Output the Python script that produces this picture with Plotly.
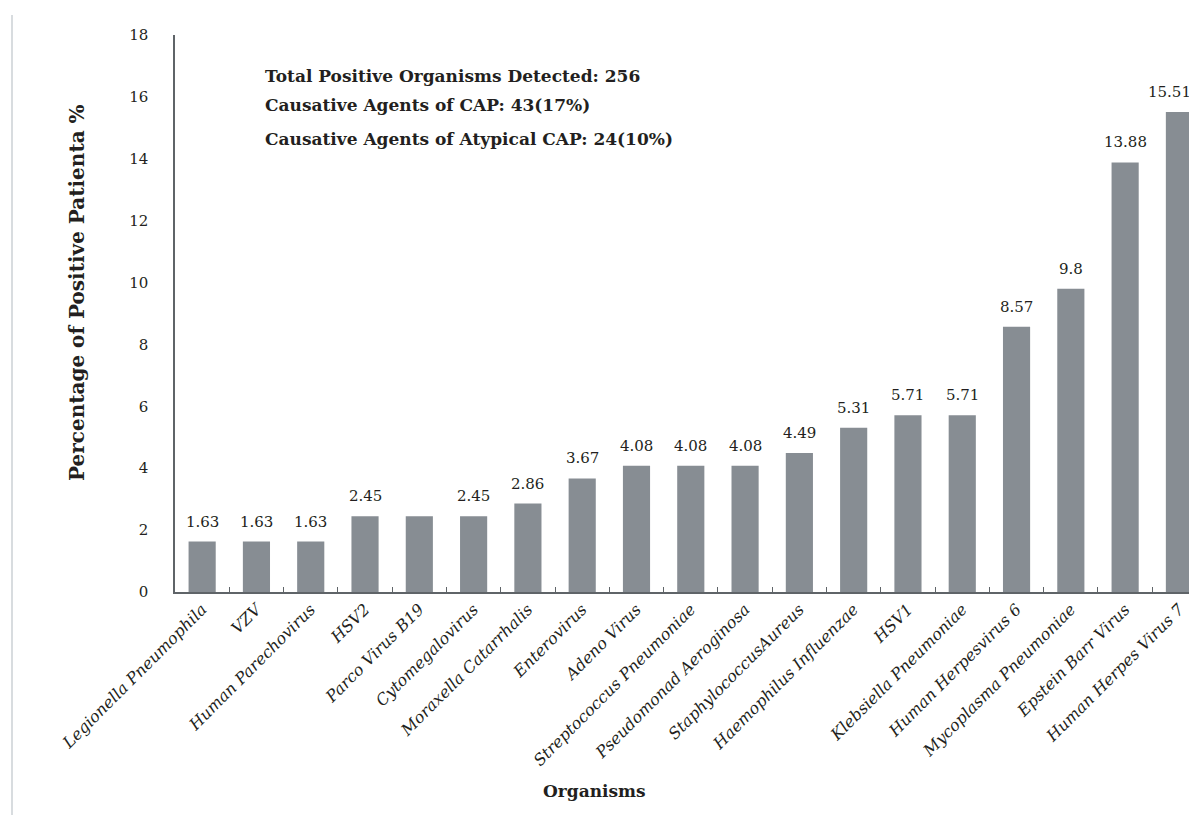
import plotly.graph_objects as go

organisms = ["Legionella Pneumophila", "VZV", "Human Parechovirus", "HSV2", "Parco Virus B19",
             "Cytomegalovirus", "Moraxella Catarrhalis", "Enterovirus", "Adeno Virus",
             "Streptococcus Pneumoniae", "Pseudomonad Aeroginosa", "StaphylococcusAureus",
             "Haemophilus Influenzae", "HSV1", "Klebsiella Pneumoniae", "Human Herpesvirus 6",
             "Mycoplasma Pneumoniae", "Epstein Barr Virus", "Human Herpes Virus 7"]
percent = [1.63, 1.63, 1.63, 2.45, 2.45, 2.45, 2.86, 3.67, 4.08, 4.08, 4.08, 4.49,
           5.31, 5.71, 5.71, 8.57, 9.8, 13.88, 15.51]
labels = ["1.63", "1.63", "1.63", "2.45", "", "2.45", "2.86", "3.67", "4.08", "4.08", "4.08",
          "4.49", "5.31", "5.71", "5.71", "8.57", "9.8", "13.88", "15.51"]
y_ticks = [0, 2, 4, 6, 8, 10, 12, 14, 16, 18]
notes = ["Total Positive Organisms Detected: 256",
         "Causative Agents of CAP: 43(17%)",
         "Causative Agents of Atypical CAP: 24(10%)"]

FONT = "DejaVu Serif"
TXT = "#231f20"
OFF = 8
W, H = 1197 - OFF, 815 - OFF
PX0, PX1, PY0, PY1 = 175, 1193, 35, 592
L, R, T, B = PX0 - OFF, 1197 - PX1, PY0 - OFF, 815 - PY1
pw = PX1 - PX0
ph = PY1 - PY0


def px(x):
    return (x - PX0) / pw


def py(y):
    return (PY1 - y) / ph


fig = go.Figure(go.Bar(
    x=organisms, y=percent,
    marker=dict(color="#878d93", line=dict(width=0)),
    width=0.5, hoverinfo="x+y",
))

n = len(organisms)
for i, (org, val, lab) in enumerate(zip(organisms, percent, labels)):
    if lab:
        fig.add_annotation(x=org, y=val, text=lab, showarrow=False, yanchor="bottom",
                           yshift=9, xshift=(-10 if i == n - 1 else 0),
                           font=dict(family=FONT, size=15, color=TXT))

fig.update_layout(
    width=W, height=H, margin=dict(l=L, r=R, t=T, b=B, autoexpand=False),
    paper_bgcolor="white", plot_bgcolor="white", showlegend=False,
    font=dict(family=FONT, color=TXT),
    xaxis=dict(range=[-0.5, 18.25], showline=True, linecolor="#5f6468", linewidth=1.5,
               ticks="inside", tickson="boundaries", ticklen=5, tickcolor="#5f6468",
               tickangle=-45, tickfont=dict(family=FONT, size=16, style="italic", color=TXT),
               showgrid=False, zeroline=False),
    yaxis=dict(range=[0, 18], tickvals=y_ticks, showline=True, linecolor="#5f6468",
               linewidth=1.5, ticks="", showgrid=False, zeroline=False,
               tickfont=dict(family=FONT, size=15, color=TXT), ticklabelstandoff=22),
)

note_y = [76, 105, 139]
for txt, yy in zip(notes, note_y):
    fig.add_annotation(text="<b>" + txt + "</b>", xref="paper", yref="paper",
                       x=px(263), y=py(yy), xanchor="left", yanchor="middle",
                       showarrow=False, font=dict(family=FONT, size=17, color=TXT))

fig.add_annotation(text="<b>Percentage of Positive Patienta %</b>", xref="paper", yref="paper",
                   x=px(63), y=py(293), textangle=-90, showarrow=False,
                   font=dict(family=FONT, size=20, color=TXT))
fig.add_annotation(text="<b>Organisms</b>", xref="paper", yref="paper",
                   x=px(594), y=py(803), showarrow=False,
                   font=dict(family=FONT, size=17, color=TXT))

fig.add_shape(type="line", xref="paper", yref="paper",
              x0=px(12), x1=px(12), y0=py(815), y1=py(15),
              line=dict(color="#d8dcdf", width=2))

fig.write_html("out.html")
